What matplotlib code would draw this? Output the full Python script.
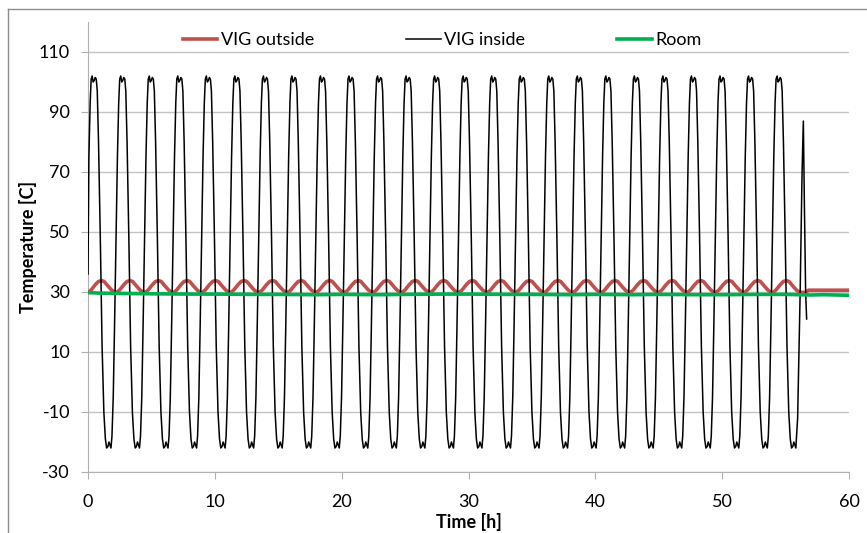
import matplotlib
matplotlib.use("Agg")
import matplotlib.pyplot as plt
from matplotlib.lines import Line2D

# ── Data ──
# VIG inside: one cycle shape (offset from each peak [h], temperature [C])
peak_times = [0.47, 2.72, 4.97, 7.22, 9.47, 11.72, 13.97, 16.22, 18.47, 20.72,
              22.97, 25.22, 27.47, 29.72, 31.97, 34.22, 36.47, 38.72, 40.97,
              43.22, 45.47, 47.72, 49.97, 52.22, 54.47]
inside_dt = [-0.40, -0.30, -0.22, -0.14, -0.06, 0.02, 0.10, 0.18, 0.26, 0.36,
             0.50, 0.64, 0.78, 0.90, 1.00, 1.10, 1.18, 1.26, 1.34, 1.42, 1.52,
             1.62, 1.74]
inside_temp = [75, 93, 101, 102, 100, 100.5, 101.5, 101, 97, 80,
               48, 12, -10, -19, -22, -21.5, -20, -21, -22, -18, -5,
               18, 48]
inside_start_t = [0.0]
inside_start_temp = [36]
inside_end_t = [55.95, 56.15, 56.30, 56.40, 56.48, 56.58, 56.64, 56.66]
inside_end_temp = [-12, 30, 70, 87, 60, 30, 23, 21]

# VIG outside: small hump, peak about 0.6 h after each inside peak
outside_peak_times = [t + 0.6 for t in peak_times]
outside_dt = [-1.0, -0.8, -0.5, -0.25, 0.0, 0.2, 0.5, 0.8, 1.0, 1.13]
outside_temp = [30.0, 30.8, 32.4, 33.5, 33.8, 33.5, 32.0, 30.6, 30.0, 29.9]
outside_start_t = [0.0]
outside_start_temp = [29.8]
outside_end_t = [56.6, 56.8, 60.0]
outside_end_temp = [29.8, 30.6, 30.6]

# Room
room_t = [0, 1, 3, 5, 8, 10, 13, 15, 18, 20, 23, 25, 28, 30, 33, 35, 38, 40,
          43, 45, 48, 50, 53, 55, 57, 58, 60]
room_temp = [29.8, 29.6, 29.5, 29.4, 29.3, 29.3, 29.2, 29.2, 29.1, 29.2, 29.1,
             29.2, 29.3, 29.3, 29.2, 29.2, 29.1, 29.2, 29.1, 29.2, 29.1, 29.1,
             29.2, 29.2, 29.0, 29.1, 28.9]

y_ticks = [-30, -10, 10, 30, 50, 70, 90, 110]
x_ticks = [0, 10, 20, 30, 40, 50, 60]


def build(start_t, start_y, peaks, dt, temp, end_t, end_y, last_cut=None):
    # repeat the read cycle shape at every peak time
    t_all, y_all = list(start_t), list(start_y)
    for i, p in enumerate(peaks):
        for d, v in zip(dt, temp):
            if i == len(peaks) - 1 and last_cut is not None and d > last_cut:
                break
            t_all.append(p + d)
            y_all.append(v)
    return t_all + list(end_t), y_all + list(end_y)


inside_t, inside_y = build(inside_start_t, inside_start_temp, peak_times,
                           inside_dt, inside_temp, inside_end_t, inside_end_temp,
                           last_cut=1.34)
outside_t, outside_y = build(outside_start_t, outside_start_temp,
                             outside_peak_times, outside_dt, outside_temp,
                             outside_end_t, outside_end_temp, last_cut=1.0)

plt.rcParams['font.family'] = ['Lato', 'DejaVu Sans']
plt.rcParams['font.size'] = 13
plt.rcParams['axes.unicode_minus'] = False

fig = plt.figure(figsize=(8.67, 5.33), dpi=100)
ax = fig.add_axes([88 / 867, 1 - 472 / 533, (849 - 88) / 867, (472 - 22) / 533])

ax.plot(outside_t, outside_y, color='#c0504d', lw=2.6, label='VIG outside', zorder=3)
ax.plot(inside_t, inside_y, color='black', lw=1.1, label='VIG inside', zorder=4)
ax.plot(room_t, room_temp, color='#00b050', lw=2.6, label='Room', zorder=5)

ax.set_xlim(0, 60)
ax.set_ylim(-30, 120)
ax.set_yticks(y_ticks)
ax.set_xticks(x_ticks)
ax.grid(axis='y', color='#c4c4c4', lw=1)
ax.set_axisbelow(True)
for s in ['top', 'right']:
    ax.spines[s].set_visible(False)
for s in ['left', 'bottom']:
    ax.spines[s].set_color('#b0b0b0')
ax.tick_params(length=5, color='#b0b0b0', direction='out', labelsize=13)
ax.tick_params(axis='x', pad=11)
ax.tick_params(axis='y', pad=8)

ax.set_xlabel('Time [h]', fontweight='bold', fontsize=13, labelpad=2)
ax.set_ylabel('Temperature [C]', fontweight='bold', fontsize=13, labelpad=1)

fig.legend(loc='center', bbox_to_anchor=(0.51, 1 - 40 / 533), ncol=3,
           frameon=False, handlelength=1.9, handletextpad=0.2,
           columnspacing=5.1, fontsize=13)

# chart border (left and top edge visible)
fig.add_artist(Line2D([8 / 867, 8 / 867], [0, 1 - 9 / 533], color='#8c8c8c', lw=1))
fig.add_artist(Line2D([8 / 867, 1], [1 - 9 / 533, 1 - 9 / 533], color='#8c8c8c', lw=1))

plt.savefig('out.png', dpi=100)
plt.close()
